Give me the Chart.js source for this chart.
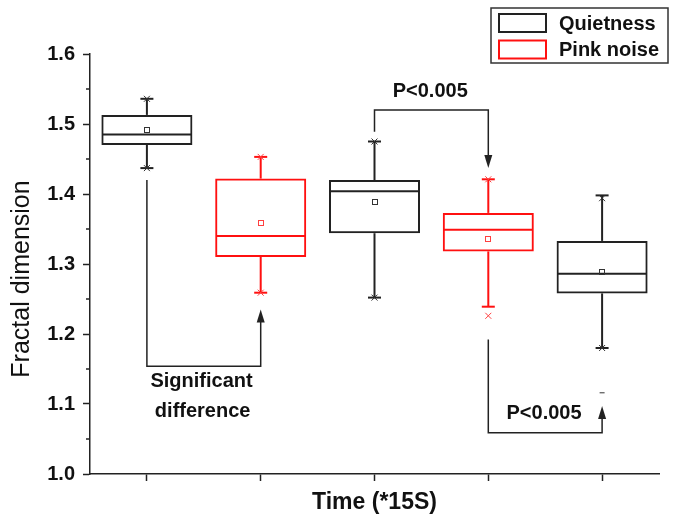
<!DOCTYPE html>
<html><head><meta charset="utf-8">
<script src="https://cdn.jsdelivr.net/npm/chart.js@4/dist/chart.umd.min.js"></script>
<style>html,body{margin:0;padding:0;background:#fff}canvas{display:block}</style>
</head><body>
<canvas id="c" width="676" height="515"></canvas>
<script>
// ---- data ----
const categories = ['1', '2', '3', '4', '5'];
const groups = ['Quietness', 'Pink noise', 'Quietness', 'Pink noise', 'Quietness'];
const seriesNames = ['Quietness', 'Pink noise'];
const q1 = [1.470, 1.310, 1.344, 1.318, 1.258];
const q3 = [1.513, 1.422, 1.420, 1.373, 1.333];
const median = [1.485, 1.340, 1.404, 1.349, 1.286];
const mean = [1.492, 1.359, 1.389, 1.336, 1.289];
const whiskerLow = [1.437, 1.259, 1.252, 1.239, 1.180];
const whiskerHigh = [1.536, 1.453, 1.475, 1.421, 1.398];
const pctLow = [1.437, 1.259, 1.252, 1.226, 1.180];
const pctHigh = [1.536, 1.453, 1.475, 1.421, 1.394];
const minMark = [null, null, null, null, 1.116];
const yTickValues = [1.0, 1.1, 1.2, 1.3, 1.4, 1.5, 1.6];
const yTitle = 'Fractal dimension';
const xTitle = 'Time (*15S)';

// annotations (data coordinates: x = category index, y = value)
const brackets = [
  { x1: 0, x2: 1, yStart: 1.420, yBend: 1.154, yTip: 1.235 },
  { x1: 2, x2: 3, yStart: 1.489, yBend: 1.520, yTip: 1.437 },
  { x1: 3, x2: 4, yStart: 1.192, yBend: 1.059, yTip: 1.097 }
];
const notes = [
  { text: 'Significant', x: 0.48, y: 1.132 },
  { text: 'difference', x: 0.49, y: 1.090 },
  { text: 'P<0.005', x: 2.49, y: 1.547 },
  { text: 'P<0.005', x: 3.49, y: 1.087 }
];

const BLACK = '#222222';
const RED = '#ff1010';
const colorOf = g => g === 'Quietness' ? BLACK : RED;
const FONT = '"Liberation Sans", Arial, sans-serif';

const datasets = seriesNames.map(name => ({
  label: name,
  data: categories.map((c, i) => groups[i] === name ? [q1[i], q3[i]] : null),
  borderColor: colorOf(name),
  backgroundColor: 'rgba(255,255,255,0)',
  borderWidth: 2,
  borderSkipped: false,
  grouped: false,
  barPercentage: 0.8,
  categoryPercentage: 1.0
}));

function line(ctx, x1, y1, x2, y2) { ctx.beginPath(); ctx.moveTo(x1, y1); ctx.lineTo(x2, y2); ctx.stroke(); }

const extras = {
  id: 'extras',
  afterDatasetsDraw(chart) {
    const { ctx, scales: { x, y } } = chart;
    const half = (x.getPixelForValue(1) - x.getPixelForValue(0)) * 0.4;
    categories.forEach((c, i) => {
      const col = colorOf(groups[i]);
      const cx = x.getPixelForValue(i);
      ctx.save();
      ctx.strokeStyle = col; ctx.lineWidth = 2;
      const ym = y.getPixelForValue(median[i]);
      line(ctx, cx - half + 1, ym, cx + half - 1, ym);
      const yq3 = y.getPixelForValue(q3[i]), yq1 = y.getPixelForValue(q1[i]);
      const yh = y.getPixelForValue(whiskerHigh[i]), yl = y.getPixelForValue(whiskerLow[i]);
      line(ctx, cx, yq3, cx, yh);
      line(ctx, cx, yq1, cx, yl);
      line(ctx, cx - 6.5, yh, cx + 6.5, yh);
      line(ctx, cx - 6.5, yl, cx + 6.5, yl);
      // mean
      ctx.lineWidth = 1;
      ctx.strokeStyle = groups[i] === 'Quietness' ? '#333' : '#ff4040';
      const ymean = y.getPixelForValue(mean[i]);
      ctx.strokeRect(Math.round(cx - 3) + 0.5, Math.round(ymean - 3) + 0.5, 5, 5);
      // 1% / 99% crosses
      [pctLow[i], pctHigh[i]].forEach(v => {
        const yy = y.getPixelForValue(v);
        line(ctx, cx - 3, yy - 3, cx + 3, yy + 3);
        line(ctx, cx - 3, yy + 3, cx + 3, yy - 3);
      });
      if (minMark[i] != null) {
        const yy = y.getPixelForValue(minMark[i]);
        line(ctx, cx - 2.5, yy, cx + 2.5, yy);
      }
      ctx.restore();
    });
  },
  afterDraw(chart) {
    const { ctx, scales: { x, y }, chartArea } = chart;
    ctx.save();
    // minor ticks on y
    ctx.strokeStyle = BLACK; ctx.lineWidth = 1.5;
    for (let k = 0; k < yTickValues.length - 1; k++) {
      const v = (yTickValues[k] + yTickValues[k + 1]) / 2;
      const yy = y.getPixelForValue(v);
      line(ctx, chartArea.left - 4, yy, chartArea.left, yy);
    }
    // y axis title
    ctx.save();
    ctx.translate(22, 279);
    ctx.rotate(-Math.PI / 2);
    ctx.fillStyle = '#111';
    ctx.font = '25px ' + FONT;
    ctx.textAlign = 'center'; ctx.textBaseline = 'middle';
    ctx.fillText(yTitle, 0, 0);
    ctx.restore();
    // brackets
    ctx.strokeStyle = BLACK; ctx.fillStyle = BLACK; ctx.lineWidth = 1.5;
    brackets.forEach(b => {
      const xa = x.getPixelForValue(b.x1), xb = x.getPixelForValue(b.x2);
      const ys = y.getPixelForValue(b.yStart), yb = y.getPixelForValue(b.yBend), yt = y.getPixelForValue(b.yTip);
      const dir = yt > yb ? 1 : -1;
      ctx.beginPath();
      ctx.moveTo(xa, ys); ctx.lineTo(xa, yb); ctx.lineTo(xb, yb); ctx.lineTo(xb, yt - dir * 10);
      ctx.stroke();
      ctx.beginPath();
      ctx.moveTo(xb, yt); ctx.lineTo(xb - 4, yt - dir * 13); ctx.lineTo(xb + 4, yt - dir * 13); ctx.closePath();
      ctx.fill();
    });
    ctx.fillStyle = '#111';
    ctx.font = 'bold 20px ' + FONT;
    ctx.textAlign = 'center'; ctx.textBaseline = 'middle';
    notes.forEach(n => ctx.fillText(n.text, x.getPixelForValue(n.x), y.getPixelForValue(n.y)));
    // legend
    const lx = 491, ly = 8, lw = 177, lh = 55;
    ctx.fillStyle = '#fff'; ctx.fillRect(lx, ly, lw, lh);
    ctx.strokeStyle = '#333'; ctx.lineWidth = 1.5; ctx.strokeRect(lx, ly, lw, lh);
    chart.data.datasets.forEach((ds, k) => {
      const ry = 14 + k * 26.5;
      ctx.strokeStyle = ds.borderColor; ctx.lineWidth = 2;
      ctx.strokeRect(499, ry, 47, 18);
      ctx.fillStyle = '#111';
      ctx.font = 'bold 20px ' + FONT;
      ctx.textAlign = 'left'; ctx.textBaseline = 'middle';
      ctx.fillText(ds.label, 559, ry + 10);
    });
    ctx.restore();
  }
};

new Chart(document.getElementById('c'), {
  type: 'bar',
  data: { labels: categories, datasets },
  options: {
    responsive: false,
    animation: false,
    devicePixelRatio: 1,
    layout: { padding: { top: 54, right: 17, left: 0, bottom: 0 } },
    plugins: { legend: { display: false }, tooltip: { enabled: false } },
    scales: {
      x: {
        type: 'category',
        offset: true,
        grid: { offset: false, drawOnChartArea: false, drawTicks: true, tickLength: 7, tickColor: BLACK, tickWidth: 1.5 },
        border: { display: true, color: BLACK, width: 1.5 },
        ticks: { callback: () => '', font: { size: 1 } },
        title: { display: true, text: xTitle, color: '#111', font: { family: FONT, size: 23, weight: 'bold', lineHeight: 1 }, padding: { top: 0, bottom: 1 } },
        afterFit: s => { s.height = 41; }
      },
      y: {
        min: 1.0, max: 1.6,
        afterBuildTicks: s => { s.ticks = yTickValues.map(v => ({ value: v })); },
        grid: { drawOnChartArea: false, drawTicks: true, tickLength: 7, tickColor: BLACK, tickWidth: 1.5 },
        border: { display: true, color: BLACK, width: 1.5 },
        ticks: { color: '#111', padding: 8, font: { family: FONT, size: 20, weight: 'bold' }, callback: v => Number(v).toFixed(1) },
        title: { display: false, text: yTitle },
        afterFit: s => { s.width = 90; }
      }
    }
  },
  plugins: [extras]
});
</script>
</body></html>
